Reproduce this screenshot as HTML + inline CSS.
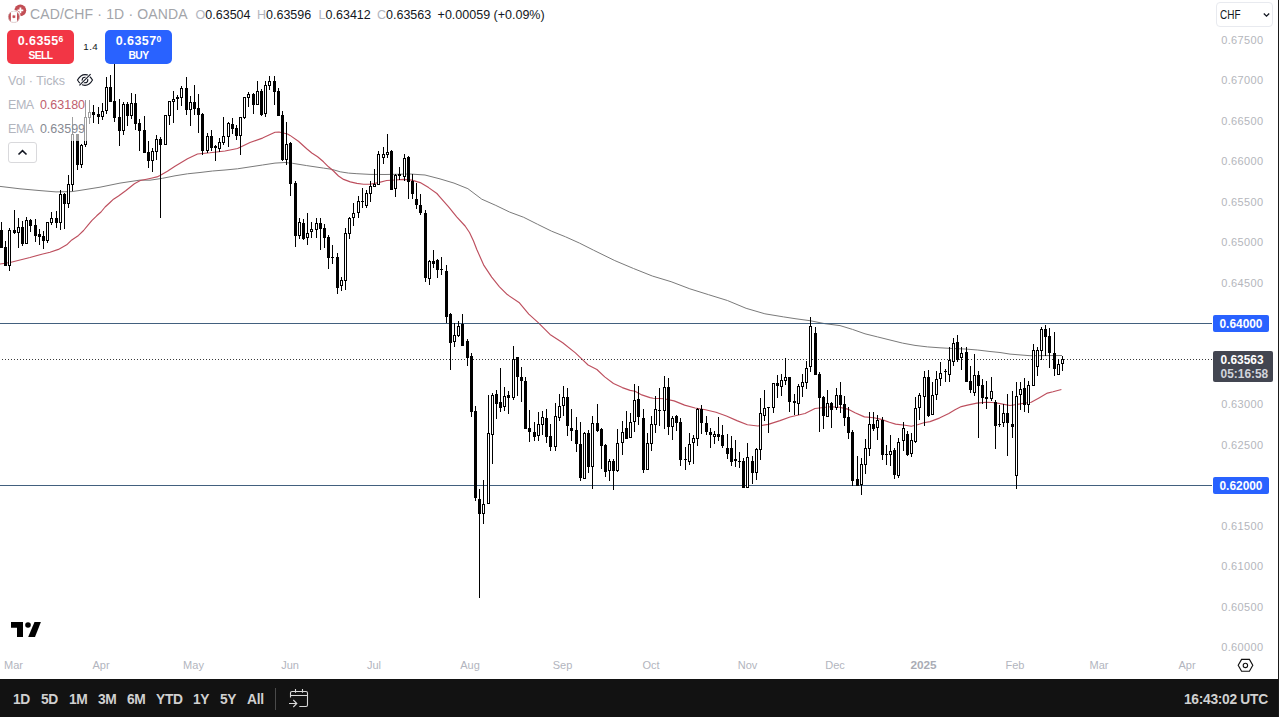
<!DOCTYPE html>
<html><head><meta charset="utf-8"><title>CAD/CHF 1D OANDA</title>
<style>
*{box-sizing:border-box;margin:0;padding:0}
html,body{width:1279px;height:717px;overflow:hidden;background:#fff}
body{position:relative;font-family:"Liberation Sans",Arial,sans-serif;color:#131722}
.chart{position:absolute;left:0;top:0}
.abs{position:absolute;white-space:nowrap}
.pl{position:absolute;left:1200px;width:63.4px;text-align:right;font-size:11px;line-height:14px;color:#b4b6bc;letter-spacing:0.35px}
.tl{position:absolute;top:657.5px;width:60px;text-align:center;font-size:11px;line-height:14px;color:#b2b5be}
.tl.yr{font-weight:bold;color:#a9acb5;font-size:11.8px}
.bar{position:absolute;left:0;top:679px;width:1279px;height:38px;background:#121212}
.rb{position:absolute;left:1278px;top:0;width:1px;height:717px;background:#1a1a1a}
.tf{position:absolute;top:691.2px;font-size:13.8px;line-height:18px;color:#d0d0d0;font-weight:bold;letter-spacing:-0.3px}
.hdr{top:5px;font-size:14px;line-height:18px;color:#a3a5aa;letter-spacing:0.15px}
.ohlc{top:6.8px;font-size:12.5px;line-height:16px;color:#131722}
.ohlc i{font-style:normal;color:#b2b5be}
.btn{position:absolute;top:30px;height:34px;border-radius:5px;color:#fff;text-align:center;font-weight:bold}
.btn .p{font-size:12.5px;line-height:14px;margin-top:1.6px;letter-spacing:0.45px}
.btn .p sup{font-size:8.5px;vertical-align:3px;letter-spacing:0}
.btn .s{font-size:10.3px;line-height:12px;margin-top:2.5px;letter-spacing:-0.6px}
.lg{font-size:12.5px;line-height:16px;color:#b2b5be}
.ema{display:inline-block;width:28.4px;letter-spacing:-0.45px}
.lbl{position:absolute;left:1213px;width:56px;color:#fff;font-weight:bold;font-size:11.9px;text-align:center}
</style></head><body>
<svg class="chart" width="1212" height="679" viewBox="0 0 1212 679">
<polyline points="0.0,186.4 20.0,188.8 40.0,190.6 56.0,191.9 72.0,191.6 80.0,190.4 100.0,187.2 120.0,183.1 140.0,180.1 150.0,180.2 162.5,178.3 175.0,175.8 187.5,173.8 200.0,172.5 212.5,171.0 225.0,170.0 237.5,168.8 250.0,166.9 262.5,165.0 275.0,163.1 285.0,162.5 292.5,163.3 306.7,165.6 323.5,168.1 331.8,169.3 340.2,171.8 348.6,173.1 356.9,173.7 370.0,174.4 385.0,174.5 410.0,174.0 425.0,175.0 440.0,178.9 454.0,183.1 467.9,188.7 481.8,199.2 495.8,205.4 509.7,212.1 523.7,217.3 537.6,224.3 551.6,231.2 565.5,236.8 579.5,243.1 593.4,250.1 614.8,260.6 633.5,268.5 652.3,276.0 671.1,281.7 689.8,288.8 708.6,294.7 727.4,300.5 746.1,308.3 764.9,313.8 783.6,316.9 796.0,318.8 810.0,320.7 825.0,323.7 840.0,325.6 852.5,329.4 865.0,333.8 877.5,336.9 890.0,340.0 902.5,343.1 915.0,345.4 927.5,346.9 940.0,347.8 952.5,348.5 965.0,349.0 977.5,350.0 990.0,351.5 1000.0,352.5 1010.0,354.1 1030.0,355.7 1062.0,355.5" fill="none" stroke="#7a7a7a" stroke-width="1" stroke-linejoin="round"/>
<polyline points="0.0,264.0 10.0,262.5 30.0,257.5 41.8,254.2 50.0,252.3 58.4,249.4 66.7,244.8 71.8,239.9 78.5,235.4 83.6,230.5 88.4,224.6 92.0,220.3 96.7,215.8 101.0,212.0 105.1,207.0 110.0,202.5 113.5,199.2 118.5,196.0 126.0,190.5 134.4,183.8 140.3,180.5 146.4,179.2 151.1,178.2 156.9,176.9 160.0,175.5 167.4,171.3 175.0,166.3 187.5,158.8 197.5,154.0 210.0,152.8 225.0,151.0 237.5,148.5 250.0,142.5 262.5,138.1 275.0,132.3 279.0,132.0 287.5,134.0 290.0,135.4 298.4,141.3 306.7,148.8 311.8,153.0 317.6,156.8 323.5,161.8 328.5,166.8 333.5,171.0 338.5,176.0 343.6,179.4 350.3,181.9 356.9,183.4 363.6,184.2 370.0,184.3 378.4,182.6 386.7,180.5 395.1,180.0 403.5,179.4 411.8,180.1 420.2,182.6 428.6,187.6 436.9,193.5 440.0,197.1 448.4,206.7 456.7,216.8 465.1,226.0 469.5,232.5 473.5,241.0 476.8,249.5 483.9,265.4 491.7,277.1 499.5,286.8 507.3,294.6 519.0,302.4 528.8,314.1 538.5,322.9 550.0,334.4 562.7,342.7 575.4,352.9 582.2,359.3 588.1,365.0 596.9,369.5 604.7,376.9 613.5,383.5 622.3,387.6 630.1,390.4 635.0,391.2 641.8,394.9 650.0,397.6 653.2,398.2 663.7,398.8 674.1,400.9 684.6,405.1 695.1,408.0 705.5,409.7 716.0,412.2 726.4,416.0 736.9,420.6 747.4,424.8 757.8,426.0 768.3,424.4 780.0,420.6 790.0,417.0 805.0,413.5 815.0,408.5 830.0,406.7 839.4,407.2 848.8,409.4 855.0,412.8 864.4,416.9 873.8,417.8 881.3,419.4 889.4,422.2 895.6,424.1 905.0,425.3 911.3,426.3 917.5,424.7 923.8,422.8 930.0,421.6 939.4,418.1 948.8,413.4 955.0,409.7 961.3,406.6 967.5,405.1 976.9,403.1 986.3,402.2 992.5,402.5 998.8,403.4 1010.0,405.5 1024.0,403.3 1031.2,402.3 1039.0,397.9 1047.4,393.1 1053.0,391.8 1061.4,389.5" fill="none" stroke="#bd4f5e" stroke-width="1.15" stroke-linejoin="round"/>
<rect x="0" y="323" width="1212" height="1" fill="#42607e"/>
<rect x="0" y="485" width="1212" height="1" fill="#42607e"/>
<line x1="0" y1="359.5" x2="1212" y2="359.5" stroke="#3a3a3a" stroke-width="1" stroke-dasharray="1 2" stroke-dashoffset="1"/>
<g shape-rendering="crispEdges">
<path d="M1 222h1v26h-1zM5 241h1v25h-1zM9 228h1v43h-1zM14 210h1v24h-1zM18 218h1v30h-1zM22 221h1v25h-1zM26 217h1v27h-1zM30 219h1v13h-1zM35 219h1v23h-1zM39 229h1v16h-1zM43 231h1v18h-1zM47 222h1v21h-1zM51 212h1v13h-1zM56 211h1v17h-1zM60 190h1v40h-1zM64 193h1v36h-1zM68 175h1v33h-1zM72 117h1v74h-1zM77 134h1v36h-1zM81 144h1v24h-1zM85 100h1v47h-1zM89 100h1v24h-1zM93 105h1v18h-1zM98 107h1v17h-1zM102 103h1v17h-1zM106 77h1v37h-1zM110 75h1v27h-1zM114 64h1v58h-1zM119 99h1v47h-1zM123 102h1v33h-1zM127 102h1v24h-1zM131 93h1v26h-1zM135 94h1v36h-1zM139 119h1v32h-1zM144 116h1v37h-1zM148 141h1v27h-1zM152 148h1v24h-1zM156 135h1v25h-1zM160 137h1v81h-1zM165 115h1v30h-1zM169 101h1v24h-1zM173 91h1v32h-1zM177 95h1v15h-1zM181 86h1v20h-1zM186 77h1v38h-1zM190 96h1v30h-1zM194 85h1v30h-1zM198 94h1v39h-1zM202 113h1v42h-1zM207 133h1v20h-1zM211 130h1v21h-1zM215 145h1v16h-1zM219 138h1v14h-1zM223 117h1v28h-1zM228 122h1v25h-1zM232 118h1v16h-1zM236 125h1v15h-1zM240 117h1v38h-1zM244 97h1v22h-1zM248 92h1v15h-1zM253 93h1v21h-1zM257 81h1v24h-1zM261 89h1v27h-1zM265 81h1v36h-1zM269 76h1v14h-1zM274 76h1v29h-1zM278 88h1v28h-1zM282 111h1v50h-1zM286 122h1v43h-1zM290 142h1v54h-1zM295 181h1v66h-1zM299 218h1v21h-1zM303 219h1v21h-1zM307 213h1v32h-1zM311 222h1v16h-1zM316 218h1v20h-1zM320 218h1v32h-1zM324 224h1v24h-1zM328 235h1v34h-1zM332 245h1v19h-1zM337 253h1v41h-1zM341 277h1v14h-1zM345 228h1v62h-1zM349 217h1v22h-1zM353 203h1v23h-1zM358 196h1v22h-1zM362 188h1v20h-1zM366 190h1v18h-1zM370 181h1v21h-1zM374 169h1v18h-1zM378 151h1v34h-1zM383 147h1v17h-1zM387 134h1v24h-1zM391 150h1v40h-1zM395 174h1v23h-1zM399 167h1v13h-1zM404 154h1v27h-1zM408 156h1v43h-1zM412 174h1v25h-1zM416 183h1v26h-1zM420 194h1v21h-1zM425 210h1v72h-1zM429 260h1v25h-1zM433 250h1v18h-1zM437 259h1v19h-1zM441 257h1v18h-1zM446 265h1v58h-1zM450 313h1v57h-1zM454 323h1v24h-1zM458 321h1v16h-1zM462 314h1v32h-1zM467 339h1v27h-1zM471 353h1v64h-1zM475 406h1v95h-1zM479 489h1v109h-1zM483 480h1v44h-1zM488 395h1v109h-1zM492 393h1v71h-1zM496 390h1v29h-1zM500 368h1v44h-1zM504 387h1v24h-1zM508 391h1v23h-1zM513 346h1v54h-1zM517 357h1v39h-1zM521 367h1v35h-1zM525 377h1v52h-1zM529 410h1v32h-1zM534 422h1v19h-1zM538 412h1v29h-1zM542 411h1v24h-1zM546 409h1v34h-1zM550 424h1v27h-1zM555 403h1v48h-1zM559 394h1v27h-1zM563 386h1v30h-1zM567 388h1v48h-1zM571 409h1v32h-1zM576 417h1v35h-1zM580 422h1v59h-1zM584 432h1v47h-1zM588 430h1v43h-1zM592 416h1v73h-1zM597 404h1v28h-1zM601 428h1v41h-1zM605 444h1v33h-1zM609 459h1v22h-1zM613 459h1v31h-1zM617 429h1v43h-1zM622 421h1v34h-1zM626 411h1v28h-1zM630 413h1v25h-1zM634 384h1v48h-1zM638 386h1v39h-1zM643 409h1v64h-1zM647 433h1v37h-1zM651 416h1v35h-1zM655 396h1v37h-1zM659 388h1v38h-1zM664 376h1v53h-1zM668 378h1v57h-1zM672 416h1v24h-1zM676 415h1v16h-1zM680 418h1v48h-1zM685 447h1v23h-1zM689 433h1v32h-1zM693 435h1v29h-1zM697 408h1v38h-1zM701 405h1v29h-1zM706 416h1v19h-1zM710 428h1v20h-1zM714 431h1v13h-1zM718 417h1v24h-1zM722 425h1v23h-1zM727 434h1v25h-1zM731 436h1v30h-1zM735 440h1v27h-1zM739 452h1v16h-1zM743 458h1v30h-1zM747 443h1v45h-1zM752 456h1v28h-1zM756 448h1v32h-1zM760 398h1v62h-1zM764 390h1v31h-1zM768 407h1v26h-1zM773 383h1v30h-1zM777 375h1v23h-1zM781 374h1v22h-1zM785 358h1v27h-1zM789 377h1v35h-1zM794 394h1v21h-1zM798 384h1v31h-1zM802 374h1v23h-1zM806 361h1v28h-1zM810 317h1v55h-1zM815 327h1v48h-1zM819 372h1v60h-1zM823 396h1v33h-1zM827 390h1v27h-1zM831 402h1v26h-1zM836 388h1v22h-1zM840 382h1v31h-1zM844 396h1v30h-1zM848 407h1v32h-1zM852 430h1v56h-1zM857 456h1v30h-1zM861 458h1v37h-1zM865 439h1v35h-1zM869 412h1v44h-1zM873 412h1v19h-1zM877 415h1v25h-1zM882 417h1v43h-1zM886 445h1v20h-1zM890 435h1v31h-1zM894 448h1v31h-1zM898 438h1v40h-1zM903 422h1v29h-1zM907 431h1v25h-1zM911 433h1v24h-1zM915 397h1v46h-1zM919 393h1v27h-1zM924 371h1v55h-1zM928 370h1v47h-1zM932 382h1v33h-1zM936 371h1v29h-1zM940 362h1v24h-1zM945 369h1v13h-1zM949 347h1v35h-1zM953 338h1v28h-1zM957 335h1v27h-1zM961 347h1v23h-1zM966 347h1v35h-1zM970 366h1v27h-1zM974 354h1v42h-1zM978 371h1v67h-1zM982 379h1v25h-1zM986 381h1v28h-1zM991 377h1v24h-1zM995 400h1v49h-1zM999 405h1v22h-1zM1003 404h1v23h-1zM1007 394h1v62h-1zM1012 391h1v47h-1zM1016 382h1v107h-1zM1020 382h1v28h-1zM1024 378h1v34h-1zM1028 381h1v32h-1zM1033 344h1v42h-1zM1037 347h1v29h-1zM1041 327h1v33h-1zM1045 325h1v31h-1zM1049 328h1v40h-1zM1054 332h1v44h-1zM1058 359h1v16h-1zM1062 356h1v15h-1z" fill="#000"/>
<path d="M0 230h3v18h-3zM4 247h3v19h-3zM8 230h3v36h-3zM13 230h3v3h-3zM17 227h3v6h-3zM21 227h3v17h-3zM25 220h3v24h-3zM29 220h3v6h-3zM34 225h3v11h-3zM38 234h3v3h-3zM42 236h3v5h-3zM46 222h3v19h-3zM50 218h3v5h-3zM55 218h3v5h-3zM59 194h3v29h-3zM63 194h3v10h-3zM67 184h3v20h-3zM71 134h3v51h-3zM76 134h3v31h-3zM80 145h3v20h-3zM84 117h3v28h-3zM88 112h3v6h-3zM92 112h3v3h-3zM97 114h3v3h-3zM101 111h3v6h-3zM105 87h3v24h-3zM109 87h3v15h-3zM113 101h3v17h-3zM118 117h3v14h-3zM122 104h3v27h-3zM126 104h3v12h-3zM130 103h3v13h-3zM134 103h3v21h-3zM138 123h3v8h-3zM143 130h3v23h-3zM147 152h3v9h-3zM151 151h3v10h-3zM155 139h3v13h-3zM159 139h3v6h-3zM164 115h3v30h-3zM168 101h3v15h-3zM172 99h3v3h-3zM176 97h3v2h-3zM180 88h3v10h-3zM185 88h3v22h-3zM189 102h3v8h-3zM193 102h3v7h-3zM197 108h3v7h-3zM201 114h3v37h-3zM206 136h3v15h-3zM210 136h3v12h-3zM214 146h3v2h-3zM218 142h3v7h-3zM222 136h3v7h-3zM227 123h3v14h-3zM231 124h3v5h-3zM235 128h3v8h-3zM239 117h3v19h-3zM243 97h3v21h-3zM247 94h3v4h-3zM252 94h3v11h-3zM256 91h3v14h-3zM260 91h3v24h-3zM264 85h3v29h-3zM268 81h3v5h-3zM273 81h3v11h-3zM277 91h3v25h-3zM281 115h3v45h-3zM285 144h3v16h-3zM289 143h3v41h-3zM294 183h3v53h-3zM298 222h3v14h-3zM302 223h3v16h-3zM306 233h3v5h-3zM310 229h3v3h-3zM315 223h3v7h-3zM319 223h3v6h-3zM323 228h3v10h-3zM327 237h3v21h-3zM331 257h3v1h-3zM336 257h3v31h-3zM340 280h3v6h-3zM344 233h3v48h-3zM348 218h3v16h-3zM352 213h3v5h-3zM357 201h3v12h-3zM361 201h3v1h-3zM365 193h3v13h-3zM369 186h3v8h-3zM373 184h3v3h-3zM377 154h3v31h-3zM382 154h3v4h-3zM386 152h3v3h-3zM390 151h3v39h-3zM394 175h3v14h-3zM398 174h3v2h-3zM403 158h3v19h-3zM407 157h3v25h-3zM411 181h3v13h-3zM415 199h3v6h-3zM419 205h3v8h-3zM424 213h3v65h-3zM428 261h3v18h-3zM432 261h3v3h-3zM436 260h3v10h-3zM440 269h3v1h-3zM445 271h3v46h-3zM449 314h3v29h-3zM453 335h3v7h-3zM457 326h3v10h-3zM461 324h3v22h-3zM466 341h3v17h-3zM470 356h3v56h-3zM474 411h3v87h-3zM478 499h3v15h-3zM482 504h3v10h-3zM487 433h3v71h-3zM491 395h3v40h-3zM495 394h3v10h-3zM499 402h3v6h-3zM503 396h3v11h-3zM507 395h3v3h-3zM512 359h3v39h-3zM516 357h3v20h-3zM520 377h3v4h-3zM524 381h3v48h-3zM528 428h3v4h-3zM533 432h3v5h-3zM537 424h3v12h-3zM541 417h3v8h-3zM545 418h3v19h-3zM549 436h3v11h-3zM554 416h3v31h-3zM558 406h3v12h-3zM562 397h3v9h-3zM566 397h3v29h-3zM570 428h3v3h-3zM575 430h3v14h-3zM579 444h3v34h-3zM583 433h3v46h-3zM587 433h3v34h-3zM591 423h3v44h-3zM596 423h3v8h-3zM600 429h3v17h-3zM604 445h3v27h-3zM608 461h3v10h-3zM612 461h3v10h-3zM616 443h3v28h-3zM621 432h3v11h-3zM625 428h3v11h-3zM629 422h3v16h-3zM633 400h3v22h-3zM637 399h3v18h-3zM642 418h3v52h-3zM646 443h3v27h-3zM650 424h3v20h-3zM654 409h3v16h-3zM658 410h3v1h-3zM663 387h3v24h-3zM667 387h3v40h-3zM671 418h3v9h-3zM675 416h3v7h-3zM679 422h3v38h-3zM684 459h3v1h-3zM688 444h3v18h-3zM692 438h3v5h-3zM696 409h3v30h-3zM700 409h3v14h-3zM705 423h3v9h-3zM709 432h3v3h-3zM713 434h3v3h-3zM717 434h3v3h-3zM721 435h3v11h-3zM726 448h3v6h-3zM730 448h3v14h-3zM734 459h3v2h-3zM738 461h3v1h-3zM742 461h3v27h-3zM746 457h3v31h-3zM751 461h3v12h-3zM755 449h3v24h-3zM759 413h3v37h-3zM763 408h3v8h-3zM767 407h3v1h-3zM772 383h3v25h-3zM776 383h3v3h-3zM780 380h3v7h-3zM784 377h3v4h-3zM788 377h3v25h-3zM793 401h3v2h-3zM797 386h3v18h-3zM801 382h3v5h-3zM805 368h3v15h-3zM809 326h3v41h-3zM814 333h3v42h-3zM818 374h3v24h-3zM822 397h3v19h-3zM826 403h3v14h-3zM830 403h3v7h-3zM835 395h3v13h-3zM839 395h3v10h-3zM843 404h3v14h-3zM847 417h3v16h-3zM851 432h3v49h-3zM856 479h3v7h-3zM860 464h3v21h-3zM864 448h3v17h-3zM868 424h3v25h-3zM872 424h3v5h-3zM876 420h3v8h-3zM881 420h3v35h-3zM885 454h3v1h-3zM889 451h3v4h-3zM893 450h3v25h-3zM897 442h3v34h-3zM902 428h3v13h-3zM906 434h3v21h-3zM910 440h3v14h-3zM914 408h3v34h-3zM918 395h3v13h-3zM923 377h3v20h-3zM927 377h3v39h-3zM931 395h3v20h-3zM935 379h3v16h-3zM939 373h3v6h-3zM944 371h3v1h-3zM948 360h3v15h-3zM952 343h3v19h-3zM956 342h3v18h-3zM960 353h3v5h-3zM965 352h3v30h-3zM969 381h3v9h-3zM973 375h3v18h-3zM977 375h3v11h-3zM981 385h3v13h-3zM985 397h3v2h-3zM990 391h3v8h-3zM994 402h3v24h-3zM998 424h3v1h-3zM1002 413h3v10h-3zM1006 413h3v10h-3zM1011 424h3v3h-3zM1015 396h3v80h-3zM1019 389h3v6h-3zM1023 388h3v17h-3zM1027 385h3v20h-3zM1032 350h3v36h-3zM1036 350h3v17h-3zM1040 329h3v22h-3zM1044 329h3v8h-3zM1048 336h3v17h-3zM1053 353h3v16h-3zM1057 364h3v11h-3zM1061 359h3v5h-3z" fill="#000"/>
<path d="M9 231h1v34h-1zM18 228h1v4h-1zM26 221h1v22h-1zM47 223h1v17h-1zM51 219h1v3h-1zM60 195h1v27h-1zM68 185h1v18h-1zM72 135h1v49h-1zM81 146h1v18h-1zM85 118h1v26h-1zM89 113h1v4h-1zM102 112h1v4h-1zM106 88h1v22h-1zM123 105h1v25h-1zM131 104h1v11h-1zM152 152h1v8h-1zM156 140h1v11h-1zM165 116h1v28h-1zM169 102h1v13h-1zM173 100h1v1h-1zM181 89h1v8h-1zM190 103h1v6h-1zM207 137h1v13h-1zM219 143h1v5h-1zM223 137h1v5h-1zM228 124h1v12h-1zM240 118h1v17h-1zM244 98h1v19h-1zM248 95h1v2h-1zM257 92h1v12h-1zM265 86h1v27h-1zM269 82h1v3h-1zM286 145h1v14h-1zM299 223h1v12h-1zM307 234h1v3h-1zM311 230h1v1h-1zM316 224h1v5h-1zM341 281h1v4h-1zM345 234h1v46h-1zM349 219h1v14h-1zM353 214h1v3h-1zM358 202h1v10h-1zM366 194h1v11h-1zM370 187h1v6h-1zM374 185h1v1h-1zM378 155h1v29h-1zM383 155h1v2h-1zM387 153h1v1h-1zM395 176h1v12h-1zM404 159h1v17h-1zM429 262h1v16h-1zM454 336h1v5h-1zM458 327h1v8h-1zM483 505h1v8h-1zM488 434h1v69h-1zM492 396h1v38h-1zM504 397h1v9h-1zM513 360h1v37h-1zM538 425h1v10h-1zM542 418h1v6h-1zM555 417h1v29h-1zM559 407h1v10h-1zM563 398h1v7h-1zM584 434h1v44h-1zM592 424h1v42h-1zM609 462h1v8h-1zM617 444h1v26h-1zM622 433h1v9h-1zM630 423h1v14h-1zM634 401h1v20h-1zM647 444h1v25h-1zM651 425h1v18h-1zM655 410h1v14h-1zM664 388h1v22h-1zM672 419h1v7h-1zM689 445h1v16h-1zM693 439h1v3h-1zM697 410h1v28h-1zM714 435h1v1h-1zM747 458h1v29h-1zM756 450h1v22h-1zM760 414h1v35h-1zM764 409h1v6h-1zM773 384h1v23h-1zM781 381h1v5h-1zM785 378h1v2h-1zM798 387h1v16h-1zM802 383h1v3h-1zM806 369h1v13h-1zM810 327h1v39h-1zM827 404h1v12h-1zM836 396h1v11h-1zM861 465h1v19h-1zM865 449h1v15h-1zM869 425h1v23h-1zM877 421h1v6h-1zM890 452h1v2h-1zM898 443h1v32h-1zM903 429h1v11h-1zM911 441h1v12h-1zM915 409h1v32h-1zM919 396h1v11h-1zM924 378h1v18h-1zM932 396h1v18h-1zM936 380h1v14h-1zM940 374h1v4h-1zM949 361h1v13h-1zM953 344h1v17h-1zM961 354h1v3h-1zM974 376h1v16h-1zM991 392h1v6h-1zM1003 414h1v8h-1zM1016 397h1v78h-1zM1020 390h1v4h-1zM1028 386h1v18h-1zM1033 351h1v34h-1zM1037 351h1v15h-1zM1041 330h1v20h-1zM1058 365h1v9h-1zM1062 360h1v3h-1z" fill="#fff"/>
</g>
</svg>
<div class="abs" style="left:5px;top:95px;width:86px;height:46px;background:rgba(255,255,255,0.62)"></div>
<!-- header -->
<svg class="abs" style="left:7px;top:4px" width="20" height="20" viewBox="0 0 20 20">
 <defs><clipPath id="cc"><circle cx="6.9" cy="12.8" r="5.9"/></clipPath></defs>
 <circle cx="13.3" cy="6.3" r="5.9" fill="#c24e55"/>
 <path d="M12.5 3.5h1.8v2h2v1.8h-2v2h-1.8v-2h-2v-1.8h2z" fill="#fff"/>
 <circle cx="6.9" cy="12.8" r="6.9" fill="#fff"/>
 <circle cx="6.9" cy="12.8" r="5.9" fill="#c24e55"/>
 <rect x="3.9" y="6" width="6.1" height="14" fill="#fff" clip-path="url(#cc)"/>
 <circle cx="6.9" cy="12.8" r="5.6" fill="none" stroke="#d8d8d8" stroke-width="0.6"/>
 <path d="M6.9 10.8l0.8 1l0.8-0.3l-0.35 1.5l0.5 0.2l-1.75 1.1l-1.75-1.1l0.5-0.2l-0.35-1.5l0.8 0.3z" fill="#c24e55"/>
</svg>
<div class="abs hdr" style="left:30px">CAD/CHF · 1D · OANDA</div>
<div class="abs ohlc" style="left:195.6px"><i>O</i>0.63504</div><div class="abs ohlc" style="left:257px"><i>H</i>0.63596</div><div class="abs ohlc" style="left:318.6px"><i>L</i>0.63412</div><div class="abs ohlc" style="left:377px"><i>C</i>0.63563</div><div class="abs ohlc" style="left:437.6px">+0.00059 (+0.09%)</div>
<div class="btn" style="left:7px;width:67px;background:#f23645"><div class="p">0.6355<sup>6</sup></div><div class="s">SELL</div></div>
<div class="abs" style="left:83.3px;top:41.3px;font-size:9.8px;line-height:12px;color:#131722;letter-spacing:0.4px">1.4</div>
<div class="btn" style="left:105px;width:67px;background:#2962ff"><div class="p">0.6357<sup>0</sup></div><div class="s">BUY</div></div>
<div class="abs lg" style="left:8px;top:72.7px">Vol · Ticks</div>
<svg class="abs" style="left:76px;top:73px" width="18" height="14" viewBox="0 0 18 14">
 <path d="M1.5 7C3.5 3.5 6 1.6 9 1.6S14.5 3.5 16.5 7C14.5 10.5 12 12.4 9 12.4S3.5 10.5 1.5 7Z" fill="none" stroke="#131722" stroke-width="1.1"/>
 <circle cx="9" cy="7" r="2.8" fill="none" stroke="#131722" stroke-width="1.1"/>
 <path d="M3.4 12.4L14.6 1.2" stroke="#fff" stroke-width="2.6"/>
 <path d="M3.4 12.4L14.6 1.2" stroke="#131722" stroke-width="1.1"/>
</svg>
<div class="abs lg" style="left:8px;top:97.2px"><span class="ema">EMA</span> <span style="color:#c0606e">0.63180</span></div>
<div class="abs lg" style="left:8px;top:121.2px"><span class="ema">EMA</span> <span style="color:#878a92">0.63599</span></div>
<div class="abs" style="left:8px;top:142px;width:29px;height:21px;border:1px solid #d9d9dc;border-radius:3px;background:#fff"></div>
<svg class="abs" style="left:17px;top:148px" width="11" height="9" viewBox="0 0 11 9"><path d="M1.5 6.5L5.5 2.7L9.5 6.5" fill="none" stroke="#131722" stroke-width="1.6"/></svg>
<!-- TV logo -->
<svg class="abs" style="left:10px;top:621px" width="32" height="17" viewBox="0 0 32 17">
 <path d="M1 1h12v15h-6V6.7H1z" fill="#000"/>
 <circle cx="18" cy="4" r="2.8" fill="#000"/>
 <path d="M24.5 1h6.4L25 16H18.2z" fill="#000"/>
</svg>
<!-- CHF -->
<div class="abs" style="left:1216px;top:2px;width:57px;height:25px;border:1px solid #e8eaef;border-radius:4px;background:#fff"></div>
<div class="abs" style="left:1220.2px;top:8px;font-size:12px;line-height:15px;color:#131722;transform:scaleX(0.83);transform-origin:0 0">CHF</div>
<svg class="abs" style="left:1263px;top:12px" width="7" height="6" viewBox="0 0 7 6"><path d="M0.8 1.5L3.5 4.2L6.2 1.5" fill="none" stroke="#131722" stroke-width="1.3"/></svg>
<!-- price axis -->
<div class="pl" style="top:32.9px">0.67500</div>
<div class="pl" style="top:73.4px">0.67000</div>
<div class="pl" style="top:113.9px">0.66500</div>
<div class="pl" style="top:154.4px">0.66000</div>
<div class="pl" style="top:194.9px">0.65500</div>
<div class="pl" style="top:235.4px">0.65000</div>
<div class="pl" style="top:275.9px">0.64500</div>
<div class="pl" style="top:397.4px">0.63000</div>
<div class="pl" style="top:437.9px">0.62500</div>
<div class="pl" style="top:518.9px">0.61500</div>
<div class="pl" style="top:559.4px">0.61000</div>
<div class="pl" style="top:599.9px">0.60500</div>
<div class="pl" style="top:640.4px">0.60000</div>
<div class="lbl" style="top:315px;height:17px;line-height:18.4px;background:#2962ff;border-radius:2px">0.64000</div>
<div class="lbl" style="top:477px;height:17px;line-height:18.4px;background:#2962ff;border-radius:2px">0.62000</div>
<div class="lbl" style="top:351px;height:31px;width:60px;background:#434651;border-radius:2px;line-height:14px;padding-top:1.7px;text-align:left;padding-left:7.6px">0.63563<br><span style="color:#d1d4dc">05:16:58</span></div>
<svg class="abs" style="left:1237px;top:658px" width="17" height="15" viewBox="0 0 17 15">
 <path d="M4.6 1.4H12.4L15.8 7.3L12.4 13.2H4.6L1.2 7.3Z" fill="none" stroke="#111" stroke-width="1.15"/>
 <circle cx="8.4" cy="7.4" r="2.2" fill="none" stroke="#111" stroke-width="1.1"/>
</svg>
<!-- time axis -->
<div class="tl" style="left:-16.5px">Mar</div>
<div class="tl" style="left:71.0px">Apr</div>
<div class="tl" style="left:163.5px">May</div>
<div class="tl" style="left:260.0px">Jun</div>
<div class="tl" style="left:344.0px">Jul</div>
<div class="tl" style="left:440.0px">Aug</div>
<div class="tl" style="left:532.5px">Sep</div>
<div class="tl" style="left:621.0px">Oct</div>
<div class="tl" style="left:717.5px">Nov</div>
<div class="tl" style="left:805.0px">Dec</div>
<div class="tl yr" style="left:893.5px">2025</div>
<div class="tl" style="left:985.0px">Feb</div>
<div class="tl" style="left:1069.0px">Mar</div>
<div class="tl" style="left:1157.0px">Apr</div>
<!-- bottom bar -->
<div class="bar"></div>
<div class="tf" style="left:13px">1D</div>
<div class="tf" style="left:41px">5D</div>
<div class="tf" style="left:69px">1M</div>
<div class="tf" style="left:98px">3M</div>
<div class="tf" style="left:127px">6M</div>
<div class="tf" style="left:156px">YTD</div>
<div class="tf" style="left:193px">1Y</div>
<div class="tf" style="left:220px">5Y</div>
<div class="tf" style="left:247px">All</div>
<div class="abs" style="left:275px;top:688px;width:1px;height:22px;background:#4a4a4a"></div>
<svg class="abs" style="left:286px;top:686px" width="24" height="24" viewBox="0 0 24 24">
 <path d="M4.5 11.6V7a1.5 1.5 0 0 1 1.5-1.5H20a1.5 1.5 0 0 1 1.5 1.5V19a1.5 1.5 0 0 1-1.5 1.5H13.3" fill="none" stroke="#d8d8d8" stroke-width="1.1"/>
 <path d="M4.5 9.5H21.5M9.5 3V6.8M16.5 3V6.8M3 17.5H10.8M7.3 14L10.8 17.5L7.3 21" fill="none" stroke="#d8d8d8" stroke-width="1.1"/>
</svg>
<div class="tf" style="left:1184px">16:43:02 UTC</div>
<div class="rb"></div>
</body></html>
